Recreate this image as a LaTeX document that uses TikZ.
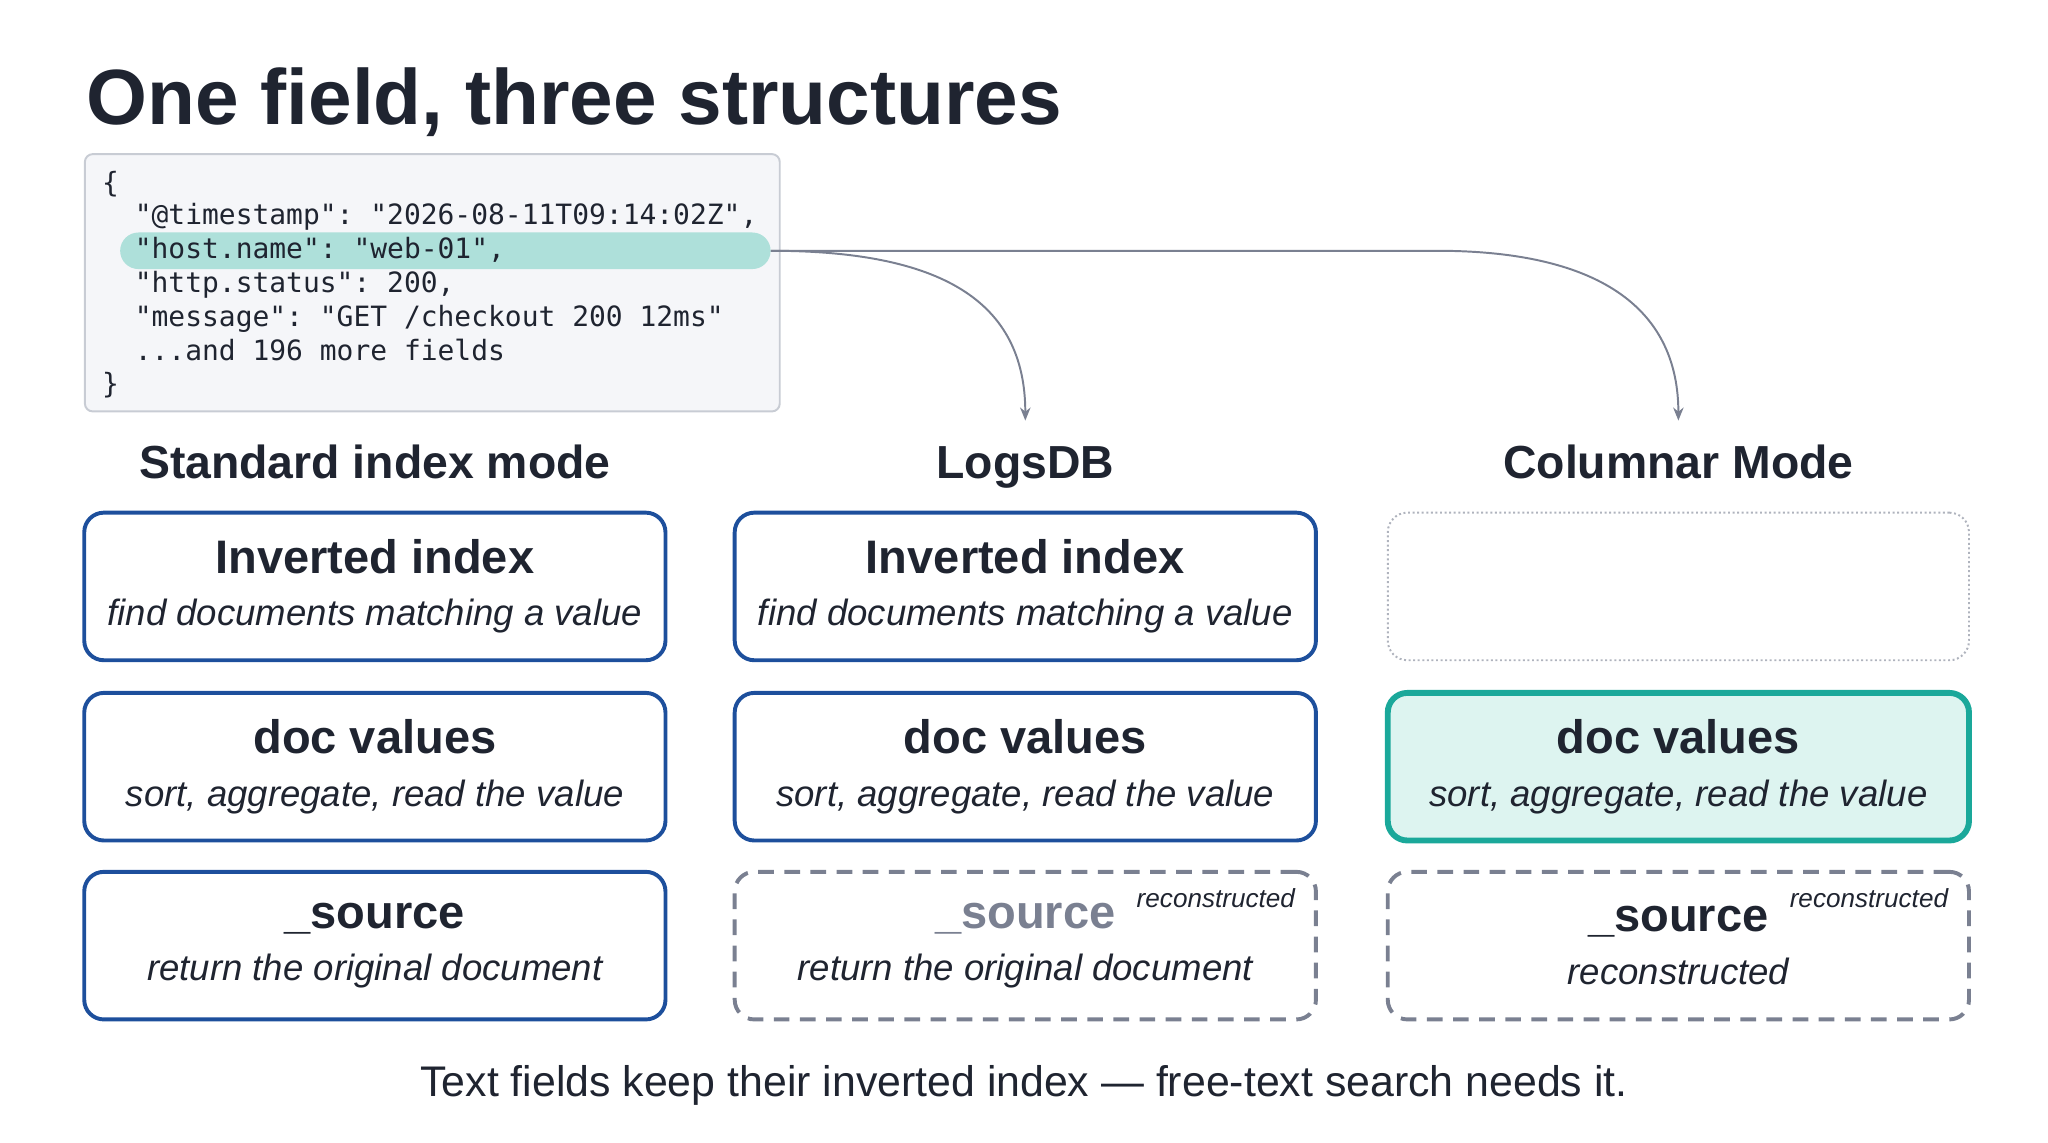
\documentclass[tikz,border=0pt]{standalone}
\usepackage{fontspec}
\setmainfont{Liberation Sans}
\setmonofont{DejaVu Sans Mono}
\usetikzlibrary{arrows.meta}
\definecolor{ink}{HTML}{1F2430}
\definecolor{blu}{HTML}{1D4F9C}
\definecolor{tea}{HTML}{1AA89A}
\definecolor{teafill}{HTML}{DDF4F0}
\definecolor{hl}{HTML}{AEE0DA}
\definecolor{gry}{HTML}{7A8091}
\definecolor{codebg}{HTML}{F5F6F9}
\definecolor{codeln}{HTML}{C8CCD4}
\newcommand{\bx}[2]{{\fontsize{36}{40}\selectfont\bfseries #1}\\{\fontsize{28}{40}\selectfont\itshape #2}}
\tikzset{
  card/.style = {draw=blu, line width=3pt, rounded corners=15pt, minimum width=445pt, minimum height=113pt, align=center, text=ink, font=\fontsize{28}{40}\selectfont},
  hot/.style = {card, draw=tea, line width=4.5pt, fill=teafill},
  ghost/.style = {card, draw=gry!60, line width=1.5pt, dotted},
  dashcard/.style = {card, draw=gry, line width=3pt, dash pattern=on 12pt off 8pt},
  head/.style = {font=\fontsize{35.5}{40}\selectfont\bfseries, text=ink},
  code/.style = {anchor=base west, font=\fontsize{21.4}{22}\ttfamily, text=ink, inner sep=0pt},
  tag/.style = {anchor=base east, font=\fontsize{20}{20}\selectfont\itshape, text=ink}
}
\begin{document}
\begin{tikzpicture}[x=1pt, y=-1pt]
\useasboundingbox (0,0) rectangle (1568,875);
\node[anchor=base west, font=\fontsize{60}{64}\selectfont\bfseries, text=ink, inner sep=0pt] (title) at (66,95) {One field, three structures};
% json document
\draw[codeln, fill=codebg, line width=1.5pt, rounded corners=6pt] (65,118) rectangle (597,315);
\node[fill=hl, rounded corners=14pt, minimum width=498pt, minimum height=28pt, inner sep=0pt] (hi) at (341,192) {};
\node[code] (l0) at (78,147) {\{};
\node[code] (l1) at (103,172) {"@timestamp": "2026-08-11T09:14:02Z",};
\node[code] (l2) at (103,198) {"host.name": "web-01",};
\node[code] (l3) at (103,224) {"http.status": 200,};
\node[code] (l4) at (103,250) {"message": "GET /checkout 200 12ms"};
\node[code] (l5) at (103,276) {...and 196 more fields};
\node[code] (l6) at (78,301) {\}};
% columns
\node[head, anchor=base] (h1) at (287,366) {Standard index mode};
\node[head, anchor=base] (h2) at (785,366) {LogsDB};
\node[head, anchor=base] (h3) at (1285,366) {Columnar Mode};
\coordinate (t2) at (785,322);
\coordinate (t3) at (1285,322);
\draw[gry, line width=1.5pt, -{Stealth[length=10pt,width=8pt]}] (hi.east) .. controls (720,192) and (785,230) .. (t2);
\draw[gry, line width=1.5pt, -{Stealth[length=10pt,width=8pt]}] (hi.east) -- (1100,192) .. controls (1230,192) and (1285,240) .. (t3);
\node[card] (a1) at (287,449) {\bx{Inverted index}{find documents matching a value}};
\node[card] (a2) at (287,587) {\bx{doc values}{sort, aggregate, read the value}};
\node[card] (a3) at (287,724) {\bx{\_source}{return the original document}};
\node[card] (b1) at (785,449) {\bx{Inverted index}{find documents matching a value}};
\node[card] (b2) at (785,587) {\bx{doc values}{sort, aggregate, read the value}};
\node[dashcard] (b3) at (785,724) {\bx{\textcolor{gry}{\_source}}{return the original document}};
\node[ghost] (c1) at (1285,449) {};
\node[hot] (c2) at (1285,587) {\bx{doc values}{sort, aggregate, read the value}};
\node[dashcard] (c3) at (1285,724) {\bx{\_source}{reconstructed}};
\node[tag] at (995,695) {reconstructed};
\node[tag] at (1495,695) {reconstructed};
\node[font=\fontsize{32.8}{34}\selectfont, text=ink] (note) at (784,831) {Text fields keep their inverted index — free-text search needs it.};
\end{tikzpicture}
\end{document}
